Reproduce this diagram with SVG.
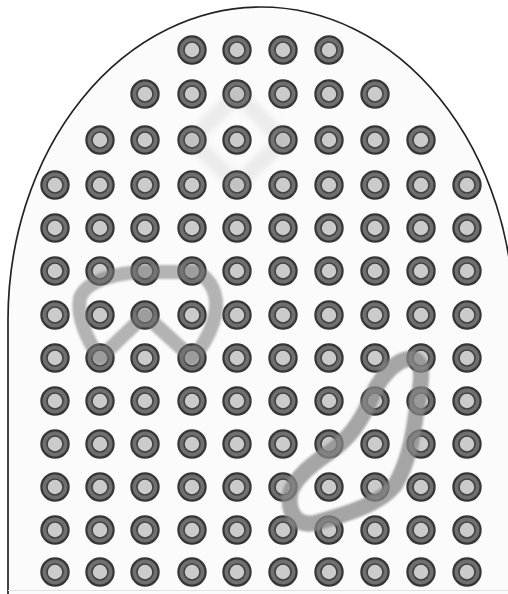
<svg xmlns="http://www.w3.org/2000/svg" xmlns:xlink="http://www.w3.org/1999/xlink" width="508" height="594" viewBox="0 0 508 594">
<style>
.outline{fill:#fbfbfb;stroke:#222;stroke-width:1.7}
.stroke{fill:none;stroke-linejoin:round;stroke-linecap:round;filter:url(#soft)}
</style>
<defs>
<filter id="soft" x="-20%" y="-20%" width="140%" height="140%"><feGaussianBlur stdDeviation="1.3"/></filter>
<filter id="softer" x="-20%" y="-20%" width="140%" height="140%"><feGaussianBlur stdDeviation="3"/></filter>
<g id="dot"><circle r="13.6" fill="#6f6f6f" stroke="#363636" stroke-width="2.2"/><circle r="8" fill="#cbcbcb" stroke="#424242" stroke-width="1.6"/></g>
</defs>
<rect width="508" height="594" fill="#fff"/>
<path class="outline" d="M8,594 L8,320 A253,313 0 0 1 514,320 L514,594"/>
<line x1="8" y1="590.5" x2="508" y2="590.5" stroke="#e2e2e2" stroke-width="1"/>
<g id="dots">
<g id="d0-3"><use href="#dot" x="192" y="50"/></g><g id="d0-4"><use href="#dot" x="237" y="50"/></g><g id="d0-5"><use href="#dot" x="283" y="50"/></g><g id="d0-6"><use href="#dot" x="329" y="50"/></g>
<g id="d1-2"><use href="#dot" x="145" y="94"/></g><g id="d1-3"><use href="#dot" x="192" y="94"/></g><g id="d1-4"><use href="#dot" x="237" y="94"/></g><g id="d1-5"><use href="#dot" x="283" y="94"/></g><g id="d1-6"><use href="#dot" x="329" y="94"/></g><g id="d1-7"><use href="#dot" x="375" y="94"/></g>
<g id="d2-1"><use href="#dot" x="100" y="140"/></g><g id="d2-2"><use href="#dot" x="145" y="140"/></g><g id="d2-3"><use href="#dot" x="192" y="140"/></g><g id="d2-4"><use href="#dot" x="237" y="140"/></g><g id="d2-5"><use href="#dot" x="283" y="140"/></g><g id="d2-6"><use href="#dot" x="329" y="140"/></g><g id="d2-7"><use href="#dot" x="375" y="140"/></g><g id="d2-8"><use href="#dot" x="421" y="140"/></g>
<g id="d3-0"><use href="#dot" x="55" y="185"/></g><g id="d3-1"><use href="#dot" x="100" y="185"/></g><g id="d3-2"><use href="#dot" x="145" y="185"/></g><g id="d3-3"><use href="#dot" x="192" y="185"/></g><g id="d3-4"><use href="#dot" x="237" y="185"/></g><g id="d3-5"><use href="#dot" x="283" y="185"/></g><g id="d3-6"><use href="#dot" x="329" y="185"/></g><g id="d3-7"><use href="#dot" x="375" y="185"/></g><g id="d3-8"><use href="#dot" x="421" y="185"/></g><g id="d3-9"><use href="#dot" x="467" y="185"/></g>
<g id="d4-0"><use href="#dot" x="55" y="228"/></g><g id="d4-1"><use href="#dot" x="100" y="228"/></g><g id="d4-2"><use href="#dot" x="145" y="228"/></g><g id="d4-3"><use href="#dot" x="192" y="228"/></g><g id="d4-4"><use href="#dot" x="237" y="228"/></g><g id="d4-5"><use href="#dot" x="283" y="228"/></g><g id="d4-6"><use href="#dot" x="329" y="228"/></g><g id="d4-7"><use href="#dot" x="375" y="228"/></g><g id="d4-8"><use href="#dot" x="421" y="228"/></g><g id="d4-9"><use href="#dot" x="467" y="228"/></g>
<g id="d5-0"><use href="#dot" x="55" y="271"/></g><g id="d5-1"><use href="#dot" x="100" y="271"/></g><g id="d5-2"><use href="#dot" x="145" y="271"/></g><g id="d5-3"><use href="#dot" x="192" y="271"/></g><g id="d5-4"><use href="#dot" x="237" y="271"/></g><g id="d5-5"><use href="#dot" x="283" y="271"/></g><g id="d5-6"><use href="#dot" x="329" y="271"/></g><g id="d5-7"><use href="#dot" x="375" y="271"/></g><g id="d5-8"><use href="#dot" x="421" y="271"/></g><g id="d5-9"><use href="#dot" x="467" y="271"/></g>
<g id="d6-0"><use href="#dot" x="55" y="315"/></g><g id="d6-1"><use href="#dot" x="100" y="315"/></g><g id="d6-2"><use href="#dot" x="145" y="315"/></g><g id="d6-3"><use href="#dot" x="192" y="315"/></g><g id="d6-4"><use href="#dot" x="237" y="315"/></g><g id="d6-5"><use href="#dot" x="283" y="315"/></g><g id="d6-6"><use href="#dot" x="329" y="315"/></g><g id="d6-7"><use href="#dot" x="375" y="315"/></g><g id="d6-8"><use href="#dot" x="421" y="315"/></g><g id="d6-9"><use href="#dot" x="467" y="315"/></g>
<g id="d7-0"><use href="#dot" x="55" y="358"/></g><g id="d7-1"><use href="#dot" x="100" y="358"/></g><g id="d7-2"><use href="#dot" x="145" y="358"/></g><g id="d7-3"><use href="#dot" x="192" y="358"/></g><g id="d7-4"><use href="#dot" x="237" y="358"/></g><g id="d7-5"><use href="#dot" x="283" y="358"/></g><g id="d7-6"><use href="#dot" x="329" y="358"/></g><g id="d7-7"><use href="#dot" x="375" y="358"/></g><g id="d7-8"><use href="#dot" x="421" y="358"/></g><g id="d7-9"><use href="#dot" x="467" y="358"/></g>
<g id="d8-0"><use href="#dot" x="55" y="401"/></g><g id="d8-1"><use href="#dot" x="100" y="401"/></g><g id="d8-2"><use href="#dot" x="145" y="401"/></g><g id="d8-3"><use href="#dot" x="192" y="401"/></g><g id="d8-4"><use href="#dot" x="237" y="401"/></g><g id="d8-5"><use href="#dot" x="283" y="401"/></g><g id="d8-6"><use href="#dot" x="329" y="401"/></g><g id="d8-7"><use href="#dot" x="375" y="401"/></g><g id="d8-8"><use href="#dot" x="421" y="401"/></g><g id="d8-9"><use href="#dot" x="467" y="401"/></g>
<g id="d9-0"><use href="#dot" x="55" y="444"/></g><g id="d9-1"><use href="#dot" x="100" y="444"/></g><g id="d9-2"><use href="#dot" x="145" y="444"/></g><g id="d9-3"><use href="#dot" x="192" y="444"/></g><g id="d9-4"><use href="#dot" x="237" y="444"/></g><g id="d9-5"><use href="#dot" x="283" y="444"/></g><g id="d9-6"><use href="#dot" x="329" y="444"/></g><g id="d9-7"><use href="#dot" x="375" y="444"/></g><g id="d9-8"><use href="#dot" x="421" y="444"/></g><g id="d9-9"><use href="#dot" x="467" y="444"/></g>
<g id="d10-0"><use href="#dot" x="55" y="487"/></g><g id="d10-1"><use href="#dot" x="100" y="487"/></g><g id="d10-2"><use href="#dot" x="145" y="487"/></g><g id="d10-3"><use href="#dot" x="192" y="487"/></g><g id="d10-4"><use href="#dot" x="237" y="487"/></g><g id="d10-5"><use href="#dot" x="283" y="487"/></g><g id="d10-6"><use href="#dot" x="329" y="487"/></g><g id="d10-7"><use href="#dot" x="375" y="487"/></g><g id="d10-8"><use href="#dot" x="421" y="487"/></g><g id="d10-9"><use href="#dot" x="467" y="487"/></g>
<g id="d11-0"><use href="#dot" x="55" y="530"/></g><g id="d11-1"><use href="#dot" x="100" y="530"/></g><g id="d11-2"><use href="#dot" x="145" y="530"/></g><g id="d11-3"><use href="#dot" x="192" y="530"/></g><g id="d11-4"><use href="#dot" x="237" y="530"/></g><g id="d11-5"><use href="#dot" x="283" y="530"/></g><g id="d11-6"><use href="#dot" x="329" y="530"/></g><g id="d11-7"><use href="#dot" x="375" y="530"/></g><g id="d11-8"><use href="#dot" x="421" y="530"/></g><g id="d11-9"><use href="#dot" x="467" y="530"/></g>
<g id="d12-0"><use href="#dot" x="55" y="572"/></g><g id="d12-1"><use href="#dot" x="100" y="572"/></g><g id="d12-2"><use href="#dot" x="145" y="572"/></g><g id="d12-3"><use href="#dot" x="192" y="572"/></g><g id="d12-4"><use href="#dot" x="237" y="572"/></g><g id="d12-5"><use href="#dot" x="283" y="572"/></g><g id="d12-6"><use href="#dot" x="329" y="572"/></g><g id="d12-7"><use href="#dot" x="375" y="572"/></g><g id="d12-8"><use href="#dot" x="421" y="572"/></g><g id="d12-9"><use href="#dot" x="467" y="572"/></g>
</g>
<g id="strokes">
<path id="diamond" d="M237,94 L283,140 L237,185 L192,140 Z" fill="none" stroke="#888" stroke-opacity="0.14" stroke-width="16" stroke-linejoin="round" filter="url(#softer)"/>
<path id="bow" class="stroke" d="M145,272 C120,272 86,280 80,298 C76,318 90,345 100,358 L145,315 L192,358 C205,345 218,320 216,300 C213,280 200,272 192,272 Z" stroke="#777" stroke-opacity="0.55" stroke-width="14"/>
<path id="bean" class="stroke" d="M408,359 C425,356 422,380 418,400 C414,430 410,460 395,485 C380,505 340,516 315,523 C295,527 288,510 290,495 C293,478 315,462 330,452 C350,438 362,420 370,400 C378,380 394,361 408,359 Z" stroke="#888" stroke-opacity="0.75" stroke-width="16"/>
</g>
</svg>
